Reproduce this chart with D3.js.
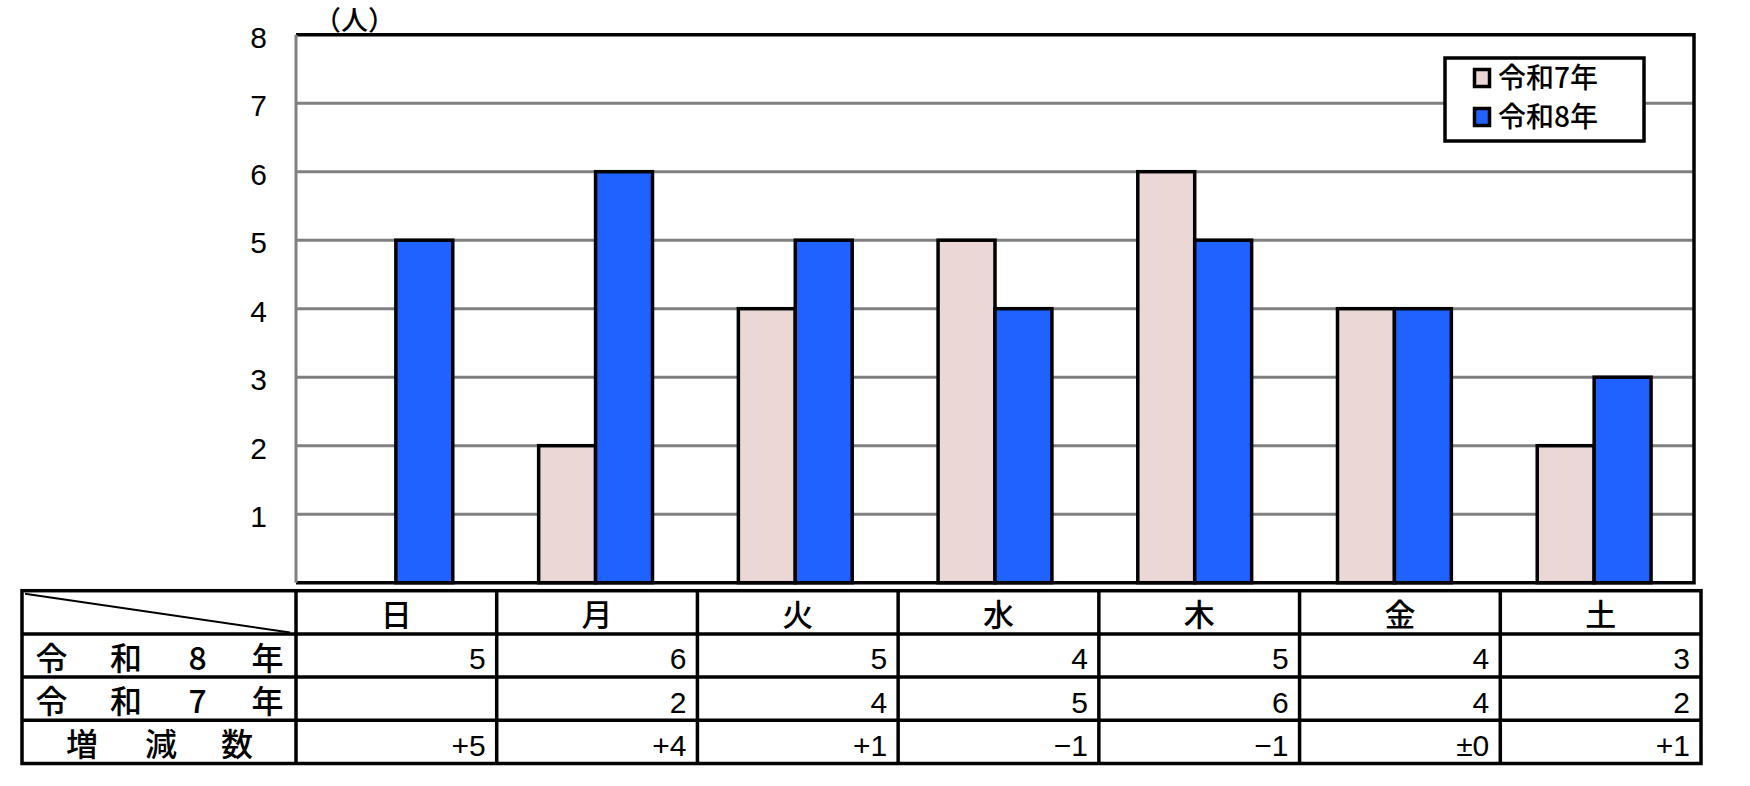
<!DOCTYPE html>
<html>
<head>
<meta charset="utf-8">
<script src="https://cdn.jsdelivr.net/npm/d3@7"></script>
<style>
  body { margin: 0; background: #fff; }
  svg { display: block; }
  .num { font-family: "Liberation Sans", Arial, sans-serif; }
  .jp { font-family: "Noto Sans CJK JP", sans-serif; font-weight: 500; }
</style>
</head>
<body>
<div class="viz"></div>
<script>
const width = 1750;
const height = 786;

const days = ["日", "月", "火", "水", "木", "金", "土"];
const seriesNames = ["令和7年", "令和8年"];
const r7 = [null, 2, 4, 5, 6, 4, 2];
const r8 = [5, 6, 5, 4, 5, 4, 3];
const diffLabels = ["+5", "+4", "+1", "−1", "−1", "±0", "+1"];
const yTicks = [1, 2, 3, 4, 5, 6, 7, 8];
const rowLabels = [["令", "和", "8", "年"], ["令", "和", "7", "年"], ["増", "減", "数"]];

const colors = { "令和7年": "#ead7d6", "令和8年": "#1f62ff" };

const plot = { left: 296, right: 1694, top: 34.7, bottom: 582.7 };
const table = { left: 22, right: 1701, top: 590.7, rowH: 43.2, labelW: 274 };

const svg = d3.select(".viz").append("svg")
  .attr("width", width)
  .attr("height", height);

const x0 = d3.scaleBand()
  .domain(days)
  .range([plot.left, plot.right])
  .paddingInner(0.43)
  .paddingOuter(0.215);

const x1 = d3.scaleBand()
  .domain(seriesNames)
  .range([0, x0.bandwidth()]);

const y = d3.scaleLinear()
  .domain([0, 8])
  .range([plot.bottom, plot.top]);

// gridlines
svg.append("g")
  .selectAll("line")
  .data(yTicks.filter(d => d < 8))
  .join("line")
  .attr("x1", plot.left)
  .attr("x2", plot.right)
  .attr("y1", d => y(d))
  .attr("y2", d => y(d))
  .attr("stroke", "#808080")
  .attr("stroke-width", 3);

// plot border (top, right, bottom black, left grey axis)
svg.append("path")
  .attr("d", `M${plot.left},${plot.top}H${plot.right}V${plot.bottom}H${plot.left}`)
  .attr("fill", "none")
  .attr("stroke", "#000")
  .attr("stroke-width", 3.5);
svg.append("line")
  .attr("x1", plot.left).attr("x2", plot.left)
  .attr("y1", plot.top).attr("y2", plot.bottom)
  .attr("stroke", "#808080")
  .attr("stroke-width", 3);

// y axis labels
const yAxis = svg.append("g")
  .attr("transform", `translate(${plot.left - 29},0)`)
  .call(d3.axisLeft(y).tickValues(yTicks).tickSize(0).tickPadding(0));
yAxis.select(".domain").remove();
yAxis.selectAll("text")
  .attr("class", "num")
  .attr("font-size", 30)
  .attr("fill", "#000")
  .attr("dy", "0.42em");

svg.append("text")
  .attr("class", "jp")
  .attr("x", 314)
  .attr("y", 30)
  .attr("font-size", 27)
  .text("（人）");

// bars
const bars = [];
days.forEach((d, i) => {
  bars.push({ day: d, series: "令和7年", value: r7[i] });
  bars.push({ day: d, series: "令和8年", value: r8[i] });
});

svg.append("g")
  .selectAll("rect")
  .data(bars.filter(d => d.value))
  .join("rect")
  .attr("x", d => x0(d.day) + x1(d.series))
  .attr("y", d => y(d.value))
  .attr("width", x1.bandwidth())
  .attr("height", d => y(0) - y(d.value))
  .attr("fill", d => colors[d.series])
  .attr("stroke", "#000")
  .attr("stroke-width", 3.5);

// legend
const legend = svg.append("g").attr("transform", "translate(1445,58)");
legend.append("rect")
  .attr("width", 199)
  .attr("height", 83)
  .attr("fill", "#fff")
  .attr("stroke", "#000")
  .attr("stroke-width", 3.5);
const item = legend.selectAll("g")
  .data(seriesNames)
  .join("g")
  .attr("transform", (d, i) => `translate(28,${10 + i * 39})`);
item.append("rect")
  .attr("x", 1.5).attr("y", 1.5)
  .attr("width", 15).attr("height", 17)
  .attr("fill", d => colors[d])
  .attr("stroke", "#000")
  .attr("stroke-width", 3.5);
item.append("text")
  .attr("class", "jp")
  .attr("x", 25)
  .attr("y", 10)
  .attr("dy", "0.36em")
  .attr("font-size", 28)
  .text(d => d);

// table
const tx = d3.scaleBand()
  .domain(days)
  .range([table.left + table.labelW, table.right]);
const rowY = i => table.top + i * table.rowH;
const tableBottom = rowY(4);

const tg = svg.append("g");
tg.append("rect")
  .attr("x", table.left)
  .attr("y", table.top)
  .attr("width", table.right - table.left)
  .attr("height", tableBottom - table.top)
  .attr("fill", "none")
  .attr("stroke", "#000")
  .attr("stroke-width", 3.5);
tg.selectAll("line.h")
  .data([1, 2, 3])
  .join("line")
  .attr("class", "h")
  .attr("x1", table.left).attr("x2", table.right)
  .attr("y1", d => rowY(d)).attr("y2", d => rowY(d))
  .attr("stroke", "#000")
  .attr("stroke-width", 3.5);
tg.selectAll("line.v")
  .data(days)
  .join("line")
  .attr("class", "v")
  .attr("x1", d => tx(d)).attr("x2", d => tx(d))
  .attr("y1", table.top).attr("y2", tableBottom)
  .attr("stroke", "#000")
  .attr("stroke-width", 3.5);
// diagonal in the corner cell
tg.append("line")
  .attr("x1", table.left + 3).attr("y1", table.top + 3)
  .attr("x2", tx(days[0]) - 6).attr("y2", rowY(1) - 1.5)
  .attr("stroke", "#000")
  .attr("stroke-width", 2);

// header days
tg.selectAll("text.day")
  .data(days)
  .join("text")
  .attr("class", "day jp")
  .attr("x", d => tx(d) + tx.bandwidth() / 2)
  .attr("y", rowY(0) + table.rowH / 2 + 3)
  .attr("dy", "0.36em")
  .attr("text-anchor", "middle")
  .attr("font-size", 31)
  .text(d => d);

// row labels, spread across the cell
rowLabels.forEach((chars, r) => {
  const spread = r < 2 ? [51.5, 126, 197.5, 267.5] : [82, 161, 237];
  tg.selectAll(`text.lab${r}`)
    .data(chars)
    .join("text")
    .attr("class", `lab${r} jp`)
    .attr("x", (d, i) => spread[i])
    .attr("y", rowY(r + 1) + table.rowH / 2 + 3)
    .attr("dy", "0.36em")
    .attr("text-anchor", "middle")
    .attr("font-size", 32)
    .text(d => d);
});

// values
const rows = [r8.map(String), r7.map(v => v == null ? "" : String(v)), diffLabels];
rows.forEach((vals, r) => {
  tg.selectAll(`text.val${r}`)
    .data(vals)
    .join("text")
    .attr("class", `val${r} num`)
    .attr("x", (d, i) => tx(days[i]) + tx.bandwidth() - 11)
    .attr("y", rowY(r + 1) + table.rowH / 2 + 3)
    .attr("dy", "0.36em")
    .attr("text-anchor", "end")
    .attr("font-size", 30)
    .text(d => d);
});
</script>
</body>
</html>
